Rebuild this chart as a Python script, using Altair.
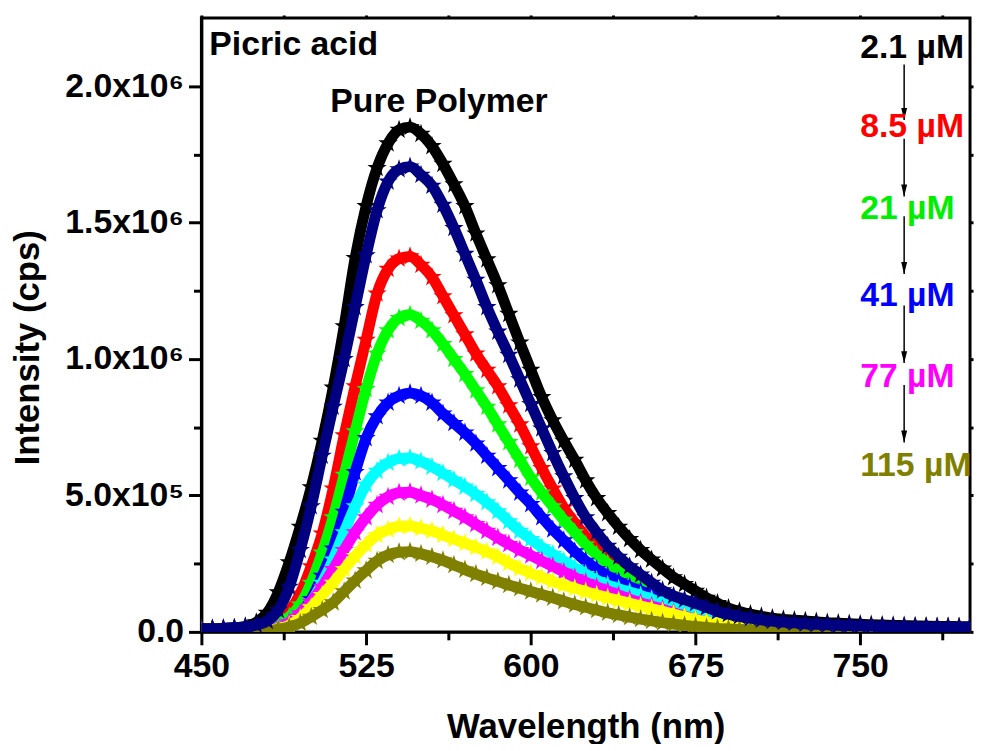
import altair as alt
import pandas as pd

# ---------------- data (intensity in units of 1e6 cps) ----------------
wavelength = list(range(450, 801, 5))

black = [0.012, 0.012, 0.013, 0.015, 0.020, 0.035,
         0.070, 0.145, 0.255, 0.385,
         0.530, 0.700, 0.895, 1.120, 1.370, 1.560, 1.700, 1.790, 1.840, 1.850,
         1.825, 1.780, 1.715, 1.640, 1.560, 1.460, 1.365, 1.270, 1.165, 1.060,
         0.960, 0.860, 0.775, 0.700, 0.630, 0.555, 0.490, 0.435, 0.385, 0.340,
         0.300, 0.265, 0.232, 0.200, 0.175, 0.150, 0.125, 0.105, 0.087, 0.075,
         0.065, 0.057, 0.050, 0.046, 0.043, 0.040, 0.037, 0.034, 0.032, 0.030,
         0.028, 0.026, 0.025, 0.024, 0.023, 0.022, 0.021, 0.020, 0.020, 0.019, 0.019]

navy = [0.012, 0.012, 0.013, 0.015, 0.018, 0.025,
        0.040, 0.080, 0.165, 0.300,
        0.460, 0.645, 0.825, 1.000, 1.190, 1.380, 1.545, 1.650, 1.695, 1.705,
        1.675, 1.635, 1.565, 1.480, 1.385, 1.290, 1.190, 1.100, 1.015, 0.925,
        0.835, 0.745, 0.655, 0.570, 0.490, 0.420, 0.365, 0.315, 0.275, 0.240,
        0.210, 0.180, 0.152, 0.132, 0.118, 0.105, 0.090, 0.075, 0.065, 0.057,
        0.050, 0.044, 0.040, 0.036, 0.033, 0.030, 0.028, 0.026, 0.024, 0.023,
        0.022, 0.021, 0.020, 0.019, 0.019, 0.018, 0.018, 0.017, 0.017, 0.017, 0.017]

red = [0.010, 0.010, 0.010, 0.010, 0.012, 0.015,
       0.022, 0.040, 0.075, 0.140,
       0.240, 0.360, 0.525, 0.720, 0.900, 1.070, 1.240, 1.330, 1.368, 1.376,
       1.345, 1.300, 1.230, 1.160, 1.090, 1.020, 0.960, 0.900, 0.830, 0.760,
       0.680, 0.600, 0.525, 0.455, 0.400, 0.350, 0.310, 0.270, 0.240, 0.210,
       0.180, 0.150, 0.125, 0.105, 0.090, 0.075, 0.062, 0.052, 0.045, 0.038,
       0.033, 0.030, 0.027, 0.025, 0.023, 0.022, 0.021, 0.020, 0.019, 0.018,
       0.017, 0.017, 0.016, 0.016, 0.015, 0.015, 0.015, 0.015, 0.015, 0.015, 0.015]

green = [0.008, 0.008, 0.008, 0.009, 0.010, 0.012,
         0.018, 0.030, 0.055, 0.100,
         0.180, 0.290, 0.420, 0.575, 0.735, 0.890, 1.020, 1.105, 1.150, 1.162,
         1.140, 1.105, 1.055, 1.000, 0.945, 0.885, 0.825, 0.760, 0.695, 0.630,
         0.565, 0.510, 0.460, 0.410, 0.365, 0.320, 0.283, 0.250, 0.220, 0.195,
         0.175, 0.160, 0.145, 0.128, 0.110, 0.095, 0.080, 0.065, 0.055, 0.045,
         0.038, 0.032, 0.028, 0.025, 0.022, 0.020, 0.018, 0.017, 0.016, 0.015,
         0.014, 0.014, 0.013, 0.013, 0.013, 0.013, 0.012, 0.012, 0.012, 0.012, 0.012]

blue = [0.008, 0.008, 0.008, 0.008, 0.009, 0.010,
        0.012, 0.020, 0.035, 0.065,
        0.120, 0.205, 0.305, 0.440, 0.585, 0.710, 0.790, 0.840, 0.865, 0.875,
        0.865, 0.840, 0.800, 0.765, 0.730, 0.690, 0.645, 0.600, 0.555, 0.510,
        0.468, 0.420, 0.375, 0.335, 0.295, 0.260, 0.230, 0.205, 0.185, 0.165,
        0.150, 0.135, 0.120, 0.108, 0.096, 0.084, 0.072, 0.060, 0.050, 0.040,
        0.034, 0.029, 0.025, 0.022, 0.020, 0.018, 0.016, 0.015, 0.014, 0.013,
        0.012, 0.012, 0.012, 0.011, 0.011, 0.011, 0.011, 0.010, 0.010, 0.010, 0.010]

cyan = [0.006, 0.006, 0.006, 0.006, 0.007, 0.008,
        0.010, 0.018, 0.035, 0.065,
        0.110, 0.180, 0.265, 0.365, 0.460, 0.540, 0.590, 0.620, 0.635, 0.637,
        0.625, 0.605, 0.582, 0.557, 0.532, 0.505, 0.475, 0.442, 0.405, 0.370,
        0.340, 0.310, 0.285, 0.260, 0.235, 0.212, 0.190, 0.172, 0.158, 0.146,
        0.134, 0.120, 0.105, 0.092, 0.080, 0.068, 0.057, 0.047, 0.038, 0.031,
        0.026, 0.022, 0.019, 0.017, 0.015, 0.013, 0.012, 0.011, 0.010, 0.009,
        0.009, 0.008, 0.008, 0.008, 0.008, 0.008, 0.007, 0.007, 0.007, 0.007, 0.007]

magenta = [0.005, 0.005, 0.005, 0.005, 0.006, 0.007,
           0.008, 0.015, 0.035, 0.068,
           0.110, 0.165, 0.230, 0.300, 0.365, 0.420, 0.465, 0.495, 0.510, 0.512,
           0.500, 0.485, 0.465, 0.443, 0.420, 0.395, 0.370, 0.345, 0.322, 0.300,
           0.280, 0.260, 0.240, 0.220, 0.200, 0.182, 0.165, 0.150, 0.135, 0.120,
           0.107, 0.095, 0.083, 0.070, 0.057, 0.046, 0.036, 0.028, 0.022, 0.018,
           0.015, 0.013, 0.011, 0.010, 0.009, 0.008, 0.007, 0.007, 0.006, 0.006,
           0.006, 0.006, 0.006, 0.006, 0.006, 0.006, 0.006, 0.006, 0.006, 0.006, 0.006]

yellow = [0.004, 0.004, 0.004, 0.004, 0.004, 0.005,
          0.006, 0.012, 0.025, 0.050,
          0.090, 0.135, 0.180, 0.230, 0.278, 0.320, 0.355, 0.375, 0.387, 0.388,
          0.380, 0.370, 0.355, 0.340, 0.325, 0.310, 0.294, 0.275, 0.252, 0.232,
          0.215, 0.200, 0.185, 0.172, 0.160, 0.148, 0.136, 0.125, 0.115, 0.105,
          0.095, 0.085, 0.075, 0.065, 0.055, 0.045, 0.037, 0.030, 0.024, 0.019,
          0.015, 0.012, 0.010, 0.009, 0.008, 0.007, 0.006, 0.006, 0.005, 0.005,
          0.005, 0.005, 0.005, 0.005, 0.005, 0.005, 0.005, 0.005, 0.005, 0.005, 0.005]

olive = [0.003, 0.003, 0.003, 0.003, 0.003, 0.003,
         0.004, 0.010, 0.018, 0.032,
         0.055, 0.080, 0.108, 0.148, 0.188, 0.225, 0.260, 0.282, 0.292, 0.294,
         0.286, 0.275, 0.262, 0.245, 0.228, 0.212, 0.198, 0.185, 0.172, 0.160,
         0.148, 0.137, 0.125, 0.112, 0.100, 0.090, 0.080, 0.070, 0.062, 0.054,
         0.047, 0.040, 0.034, 0.029, 0.024, 0.020, 0.016, 0.013, 0.011, 0.009,
         0.008, 0.007, 0.006, 0.005, 0.005, 0.004, 0.004, 0.004, 0.004, 0.004,
         0.004, 0.004, 0.004, 0.004, 0.004, 0.004, 0.004, 0.004, 0.004, 0.004, 0.004]

# drawing order (last one on top) and colours
series = [
    ("black", black, "#000000"),
    ("red", red, "#FF0000"),
    ("green", green, "#00FF00"),
    ("blue", blue, "#0000FF"),
    ("cyan", cyan, "#00FFFF"),
    ("magenta", magenta, "#FF00FF"),
    ("yellow", yellow, "#FFFF00"),
    ("olive", olive, "#808000"),
    ("navy", navy, "#000080"),
]

# concentration labels
conc_labels = ["2.1 µM", "8.5 µM", "21 µM", "41 µM", "77 µM", "115 µM"]
conc_colors = ["#000000", "#FF0000", "#00EE00", "#0000FF", "#FF00FF", "#808000"]
conc_x = [750, 750, 750, 750, 750, 750]
conc_y = [2.105, 1.814, 1.512, 1.196, 0.898, 0.571]

arrow_x = [770, 770, 770, 770, 770]
arrow_y_start = [2.079, 1.807, 1.523, 1.196, 0.905]
arrow_y_end = [1.876, 1.596, 1.312, 0.985, 0.694]

notes = ["Picric acid", "Pure Polymer"]
notes_x = [453.6, 508.7]
notes_y = [2.116, 1.905]

x_major = [450, 525, 600, 675, 750]
x_minor = [487.5, 562.5, 637.5, 712.5, 787.5]
y_major = [0, 0.5, 1.0, 1.5, 2.0]
y_minor = [0.25, 0.75, 1.25, 1.75]

# ---------------- styling ----------------
FONT = "Liberation Sans"
STAR = ("M0,-1L0.2245,-0.309L0.951,-0.309L0.363,0.118L0.588,0.809L0,0.382"
        "L-0.588,0.809L-0.363,0.118L-0.951,-0.309L-0.2245,-0.309Z")
HEAD = "M-0.5,-1L0.5,-1L0,1Z"

x_scale = alt.Scale(domain=[450, 800], nice=False, zero=False)
y_scale = alt.Scale(domain=[0, 2.25], nice=False, zero=False)

y_label_expr = ("datum.value == 0 ? '0.0' : (datum.value < 1 ? "
                "format(datum.value * 10, '.1f') + 'x10⁵' : "
                "format(datum.value, '.1f') + 'x10⁶')")

x_axis_main = alt.Axis(
    orient="bottom", values=x_major, grid=False,
    tickSize=13, tickWidth=3, tickColor="black",
    domainColor="black", domainWidth=3,
    labelFont=FONT, labelFontSize=34, labelFontWeight="bold", labelColor="black",
    labelPadding=5, labelOverlap=False, labelFlush=False,
    title="Wavelength (nm)", titleFont=FONT, titleFontSize=35,
    titleFontWeight="bold", titleColor="black",
    titleBaseline="alphabetic", titleY=106,
)
y_axis_main = alt.Axis(
    orient="left", values=y_major, grid=False, labelExpr=y_label_expr,
    tickSize=13, tickWidth=3, tickColor="black",
    domainColor="black", domainWidth=3,
    labelFont=FONT, labelFontSize=34, labelFontWeight="bold", labelColor="black",
    labelPadding=5, labelOverlap=False, labelFlush=False,
    title="Intensity (cps)", titleFont=FONT, titleFontSize=35,
    titleFontWeight="bold", titleColor="black",
    titleAngle=270, titleBaseline="alphabetic", titleAlign="center",
    titleX=-164, titleY=332,
)

layers = []
first = True
for name, vals, col in series:
    df = pd.DataFrame({"wl": wavelength, "v": vals, "s": name})
    line = alt.Chart(df).mark_line(
        color=col, strokeWidth=11, interpolate="monotone", clip=True
    ).encode(
        x=alt.X("wl:Q", scale=x_scale, axis=x_axis_main if first else None),
        y=alt.Y("v:Q", scale=y_scale, axis=y_axis_main if first else None),
    )
    pts = alt.Chart(df).mark_point(
        shape=STAR, filled=True, size=420, color=col, opacity=1,
        strokeWidth=0, clip=True
    ).encode(
        x=alt.X("wl:Q", scale=x_scale, axis=None),
        y=alt.Y("v:Q", scale=y_scale, axis=None),
    )
    layers += [line, pts]
    first = False

# minor ticks (bottom / left) and small mirrored ticks (top / right)
df_ticks = pd.DataFrame({"wl": wavelength, "v": black})
minor = alt.Chart(df_ticks).mark_point(opacity=0).encode(
    x=alt.X("wl:Q", scale=x_scale, axis=alt.Axis(
        orient="bottom", values=x_minor, tickSize=8, tickWidth=3,
        tickColor="black", labels=False, domain=False, grid=False, title="")),
    y=alt.Y("v:Q", scale=y_scale, axis=alt.Axis(
        orient="left", values=y_minor, tickSize=8, tickWidth=3,
        tickColor="black", labels=False, domain=False, grid=False, title="")),
)
mirror = alt.Chart(df_ticks).mark_point(opacity=0).encode(
    x=alt.X("wl:Q", scale=x_scale, axis=alt.Axis(
        orient="top", values=x_major + x_minor, tickSize=3, tickWidth=3,
        tickColor="black", labels=False, domain=False, grid=False, title="")),
    y=alt.Y("v:Q", scale=y_scale, axis=alt.Axis(
        orient="right", values=y_major + y_minor, tickSize=3, tickWidth=3,
        tickColor="black", labels=False, domain=False, grid=False, title="")),
)
layers += [minor, mirror]

# arrows
df_arrows = pd.DataFrame({"x": arrow_x, "y": arrow_y_start, "y2": arrow_y_end})
arrow_lines = alt.Chart(df_arrows).mark_rule(color="black", strokeWidth=1.5).encode(
    x=alt.X("x:Q", scale=x_scale, axis=None),
    y=alt.Y("y:Q", scale=y_scale, axis=None),
    y2="y2:Q",
)
arrow_heads = alt.Chart(df_arrows).mark_point(
    shape=HEAD, filled=True, size=144, color="black", opacity=1,
    strokeWidth=0, yOffset=-6
).encode(
    x=alt.X("x:Q", scale=x_scale, axis=None),
    y=alt.Y("y2:Q", scale=y_scale, axis=None),
)
layers += [arrow_lines, arrow_heads]

# concentration labels
df_conc = pd.DataFrame({"x": conc_x, "y": conc_y, "label": conc_labels, "col": conc_colors})
conc_text = alt.Chart(df_conc).mark_text(
    font=FONT, fontSize=34, fontWeight="bold", align="left", baseline="alphabetic"
).encode(
    x=alt.X("x:Q", scale=x_scale, axis=None),
    y=alt.Y("y:Q", scale=y_scale, axis=None),
    text="label:N",
    color=alt.Color("col:N", scale=None),
)
layers.append(conc_text)

# notes
df_notes = pd.DataFrame({"x": notes_x, "y": notes_y, "label": notes})
notes_text = alt.Chart(df_notes).mark_text(
    font=FONT, fontSize=34, fontWeight="bold", align="left",
    baseline="alphabetic", color="black"
).encode(
    x=alt.X("x:Q", scale=x_scale, axis=None),
    y=alt.Y("y:Q", scale=y_scale, axis=None),
    text="label:N",
)
layers.append(notes_text)

chart = alt.layer(*layers).resolve_axis(
    x="independent", y="independent"
).properties(
    width=775, height=619,
    autosize=alt.AutoSizeParams(type="none"),
    padding={"left": 195, "top": 7, "right": 4, "bottom": 110},
).configure_view(
    stroke="black", strokeWidth=3
)

chart.save("out.html", embed_options={"renderer": "svg", "actions": False})
